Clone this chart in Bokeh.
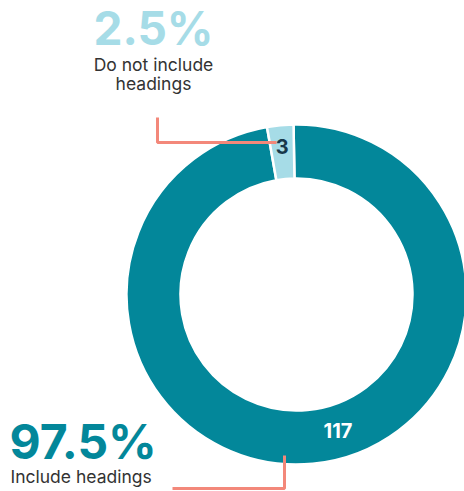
import math
from bokeh.plotting import figure
from bokeh.models import Range1d
from bokeh.core.properties import value
from bokeh.embed import file_html
from bokeh.resources import INLINE

# ---- data ----
categories = ["Include headings", "Do not include headings"]
counts = [117, 3]
colors = ["#03879A", "#A6DCE7"]

W, H = 464, 491
FONT = "Inter"
TEAL, LIGHT, SALMON = "#03879A", "#A6DCE7", "#F3887A"
DARK, GREY = "#17384A", "#333333"

p = figure(width=W, height=H, output_backend="svg", toolbar_location=None,
           x_range=Range1d(0, W), y_range=Range1d(0, H), min_border=0,
           outline_line_color=None, border_fill_color="white")
p.axis.visible = False
p.grid.visible = False

def sy(y):  # screen pixel y -> data y
    return H - y
def sx(x):
    return x

cx, cy = sx(296), sy(294)
r_out, r_in = 170, 116

total = sum(counts)
small_start = math.radians(91)
small_end = small_start + 2 * math.pi * counts[1] / total
big_start = small_end
big_end = small_start + 2 * math.pi

p.annular_wedge(x=[cx, cx], y=[cy, cy], inner_radius=r_in, outer_radius=r_out,
                start_angle=[big_start, small_start], end_angle=[big_end, small_end],
                fill_color=colors, line_color="white", line_width=2.5)

# callout lines
p.line(x=[sx(157), sx(157), sx(276)], y=[sy(117), sy(142), sy(142)],
       line_color=SALMON, line_width=3)
p.line(x=[sx(284), sx(284), sx(172)], y=[sy(455), sy(488), sy(488)],
       line_color=SALMON, line_width=3)

mid_small = (small_start + small_end) / 2
p.text(x=[cx + 149 * math.cos(mid_small)], y=[cy + 149 * math.sin(mid_small)],
       text=[str(counts[1])], text_align="center", text_baseline="middle",
       text_font=value(FONT), text_font_style="bold", text_font_size="20px",
       text_color=DARK)
ang117 = math.radians(-73)
p.text(x=[cx + 142 * math.cos(ang117)], y=[cy + 142 * math.sin(ang117)],
       text=[str(counts[0])], text_align="center", text_baseline="middle",
       text_font=value(FONT), text_font_style="bold", text_font_size="20px",
       text_color="white")

pct = [f"{c / total * 100:.1f}%" for c in counts]

p.text(x=[sx(153)], y=[sy(27)], text=[pct[1]], text_align="center",
       text_baseline="middle", text_font=value(FONT), text_font_style="bold",
       text_font_size="46px", text_color=LIGHT)
p.text(x=[sx(153), sx(153)], y=[sy(64), sy(83)], text=["Do not include", "headings"],
       text_align="center", text_baseline="middle", text_font=value(FONT),
       text_font_size="17.5px", text_color=GREY)

p.text(x=[sx(9)], y=[sy(441)], text=[pct[0]], text_align="left",
       text_baseline="middle", text_font=value(FONT), text_font_style="bold",
       text_font_size="48px", text_color=TEAL)
p.text(x=[sx(10)], y=[sy(476)], text=[categories[0]], text_align="left",
       text_baseline="middle", text_font=value(FONT),
       text_font_size="17.5px", text_color=GREY)

open("out.html", "w").write(file_html(p, INLINE))
